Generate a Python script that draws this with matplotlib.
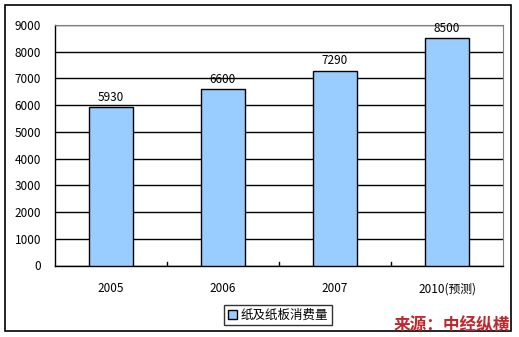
import matplotlib.pyplot as plt
from matplotlib.patches import Rectangle

plt.rcParams["font.family"] = ["Noto Sans CJK SC", "DejaVu Sans"]

categories = ["2005", "2006", "2007", "2010(预测)"]
values = [5930, 6600, 7290, 8500]
series_name = "纸及纸板消费量"
source_text = "来源：中经纵横"
y_ticks = list(range(0, 9001, 1000))

bar_color = "#99ccff"

fig = plt.figure(figsize=(5.19, 3.37), dpi=100)
fig.patches.append(Rectangle((5 / 519, 1 - 331 / 337), 506 / 519, 326 / 337,
                             transform=fig.transFigure, fill=False,
                             edgecolor="black", linewidth=1.2))

ax = fig.add_axes([55 / 519, 1 - 265.5 / 337, 448 / 519, 240.5 / 337])
x = range(len(categories))
bars = ax.bar(x, values, width=0.39, color=bar_color, edgecolor="black",
              linewidth=1, zorder=3, label=series_name)

for xi, v in zip(x, values):
    ax.text(xi, v + 120, str(v), ha="center", va="bottom", fontsize=8.5, zorder=4)

ax.set_xlim(-0.5, len(categories) - 0.5)
ax.set_ylim(0, 9000)
ax.set_yticks(y_ticks)
ax.set_yticklabels([str(t) for t in y_ticks], fontsize=8.5)
ax.grid(axis="y", color="black", linewidth=1, zorder=0)
ax.set_axisbelow(True)

ax.set_xticks(list(x))
ax.set_xticklabels(categories, fontsize=8.5)
ax.tick_params(axis="x", length=0, pad=12)
ax.tick_params(axis="y", length=0, pad=10)
# small boundary ticks between categories
for b in [0.5, 1.5, 2.5]:
    ax.plot([b, b], [0, 120], color="black", linewidth=1, zorder=2)

for side in ["top", "right"]:
    ax.spines[side].set_color("#808080")
for side in ["left", "bottom"]:
    ax.spines[side].set_color("black")
    ax.spines[side].set_linewidth(1)

leg = fig.legend(handles=[bars], labels=[series_name], loc="center",
                 bbox_to_anchor=(278 / 519, 1 - 315 / 337), fontsize=9,
                 frameon=True, fancybox=False, edgecolor="black",
                 handlelength=0.7, handleheight=0.7, handletextpad=0.3,
                 borderpad=0.3)
leg.get_frame().set_linewidth(1)

fig.text(510 / 519, 1 - 325 / 337, source_text, ha="right", va="center",
         fontsize=12, fontweight="bold", fontstyle="italic", color="#c0272d")

fig.savefig("out.png", dpi=100)
